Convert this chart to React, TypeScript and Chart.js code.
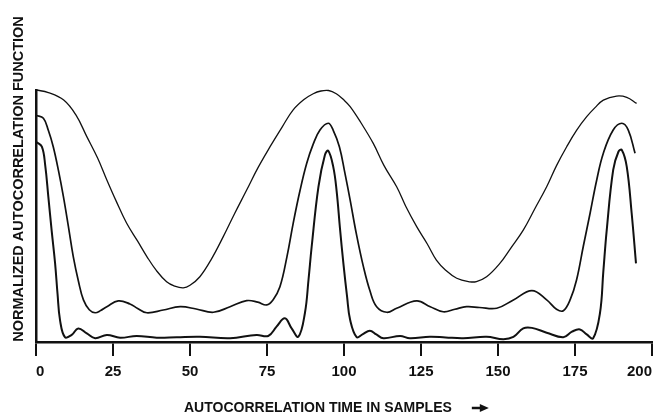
import React, { useEffect, useRef } from "react";
import { Chart, registerables } from "chart.js";

Chart.register(...registerables);

// Lag values (samples) and normalized autocorrelation for the three signals.
const lagsWide = [
  0, 4, 9, 13, 16.5, 20, 23, 26, 29.4, 33, 36, 39, 42.4, 45, 47.8, 50, 53.2, 57,
  60.8, 64.5, 68.4, 72, 76, 80, 83.5, 87, 90, 92.5, 95, 97.5, 100, 102, 105.5,
  109.5, 113, 117.1, 120, 123.6, 127, 130, 133, 136.6, 140.9, 143, 146.3, 150.6,
  154, 158.2, 162, 165.8, 169, 172.3, 175.5, 178.8, 181.5, 184.2, 188.5, 191.8,
  195,
];
const acfWide = [
  1.0, 0.99, 0.96, 0.9, 0.815, 0.73, 0.643, 0.56, 0.472, 0.4, 0.339, 0.285,
  0.239, 0.222, 0.215, 0.225, 0.259, 0.33, 0.418, 0.51, 0.603, 0.69, 0.775,
  0.855, 0.921, 0.962, 0.985, 0.996, 0.998, 0.985, 0.96, 0.934, 0.87, 0.788,
  0.7, 0.616, 0.54, 0.458, 0.39, 0.325, 0.285, 0.253, 0.239, 0.24, 0.259, 0.312,
  0.37, 0.444, 0.53, 0.616, 0.7, 0.775, 0.84, 0.894, 0.93, 0.96, 0.976, 0.971,
  0.947,
];

const lagsMid = [
  0, 2.4, 4, 5.6, 7.3, 8.9, 10.5, 12.1, 13.8, 15.4, 17.3, 19.2, 21, 23, 26.7,
  30.5, 33, 36, 41.3, 46.8, 52, 57.6, 63, 68.4, 72, 74.9, 77, 79.2, 81.5, 83.5,
  85.7, 87.9, 90, 92.2, 94.9, 96.5, 98.5, 100.3, 102, 104, 106.3, 108.5, 110.6,
  113.9, 117.1, 123.6, 128, 132.2, 136, 139.8, 144, 149.6, 155, 161, 165.8, 169,
  171.2, 173.5, 175.5, 177.7, 179.9, 182, 184.2, 187.4, 190.2, 192.3, 194.5,
];
const acfMid = [
  0.9, 0.888, 0.84, 0.775, 0.68, 0.577, 0.46, 0.339, 0.24, 0.167, 0.128, 0.116,
  0.125, 0.14, 0.163, 0.151, 0.133, 0.116, 0.127, 0.14, 0.131, 0.118, 0.14,
  0.164, 0.158, 0.147, 0.168, 0.219, 0.34, 0.471, 0.6, 0.709, 0.785, 0.841,
  0.868, 0.84, 0.775, 0.67, 0.563, 0.43, 0.299, 0.2, 0.14, 0.118, 0.134, 0.163,
  0.14, 0.12, 0.13, 0.14, 0.137, 0.134, 0.167, 0.204, 0.167, 0.13, 0.124, 0.17,
  0.246, 0.38, 0.511, 0.64, 0.749, 0.841, 0.868, 0.841, 0.749,
];

const lagsNarrow = [
  0, 1.9, 3, 4, 5.1, 6.2, 7, 7.8, 9.4, 11.6, 13.7, 16.5, 19.2, 23, 27.3, 32.7,
  39.2, 45.7, 53.2, 63, 71.6, 75.4, 78.1, 80.8, 83, 85.2, 87.3, 88.5, 89.5, 91.7,
  93.8, 94.9, 96.5, 97.6, 98.7, 99.8, 101, 102, 104.1, 106, 108.4, 110.5, 112.8,
  118.2, 121.4, 127.9, 133, 138.7, 146.3, 151.7, 155, 158.2, 161, 165.8, 171.2,
  174, 176.6, 178.8, 180.9, 183.1, 184.2, 185.3, 187.4, 189.1, 190.2, 191.8,
  193.4, 194.8,
];
const acfNarrow = [
  0.795, 0.775, 0.7, 0.577, 0.44, 0.312, 0.19, 0.087, 0.019, 0.028, 0.054,
  0.034, 0.015, 0.028, 0.017, 0.024, 0.017, 0.019, 0.021, 0.015, 0.028, 0.024,
  0.061, 0.094, 0.054, 0.021, 0.114, 0.25, 0.378, 0.616, 0.742, 0.759, 0.696,
  0.6, 0.45, 0.312, 0.18, 0.087, 0.019, 0.03, 0.045, 0.03, 0.015, 0.024, 0.015,
  0.021, 0.018, 0.015, 0.021, 0.011, 0.02, 0.054, 0.056, 0.037, 0.019, 0.041,
  0.05, 0.03, 0.015, 0.114, 0.28, 0.444, 0.683, 0.755, 0.762, 0.696, 0.511,
  0.312,
];

const xTicks = [0, 25, 50, 75, 100, 125, 150, 175, 200];
const xTitle = "AUTOCORRELATION TIME IN SAMPLES";
const yTitle = "NORMALIZED AUTOCORRELATION FUNCTION";

const INK = "#111111";
const FONT = "'Liberation Sans', Arial, Helvetica, sans-serif";

const toPoints = (xs: number[], ys: number[]) =>
  xs.map((x, i) => ({ x, y: ys[i] }));

// Axis titles: rotated y title and the x title followed by a solid arrow.
const titlesPlugin = {
  id: "axisTitles",
  afterDraw(chart: Chart) {
    const ctx = chart.ctx;
    ctx.save();
    ctx.fillStyle = INK;

    ctx.font = `bold 14.5px ${FONT}`;
    ctx.textAlign = "center";
    ctx.textBaseline = "middle";
    ctx.save();
    ctx.translate(19, 179);
    ctx.rotate(-Math.PI / 2);
    ctx.fillText(yTitle, 0, 0);
    ctx.restore();

    ctx.font = `bold 14px ${FONT}`;
    ctx.textAlign = "left";
    ctx.textBaseline = "middle";
    const left = 184;
    const cy = 408;
    ctx.fillText(xTitle, left, cy);
    const end = left + ctx.measureText(xTitle).width;

    const ax = end + 20;
    ctx.lineWidth = 2.5;
    ctx.strokeStyle = INK;
    ctx.beginPath();
    ctx.moveTo(ax, cy);
    ctx.lineTo(ax + 10, cy);
    ctx.stroke();
    ctx.beginPath();
    ctx.moveTo(ax + 8, cy - 4);
    ctx.lineTo(ax + 17, cy);
    ctx.lineTo(ax + 8, cy + 4);
    ctx.closePath();
    ctx.fill();
    ctx.restore();
  },
};

export default function App() {
  const canvasRef = useRef<HTMLCanvasElement | null>(null);

  useEffect(() => {
    const canvas = canvasRef.current;
    if (!canvas) return;

    const lineStyle = (width: number) => ({
      borderColor: INK,
      borderWidth: width,
      pointRadius: 0,
      fill: false,
      tension: 0.4,
      clip: false as const,
    });

    const chart = new Chart(canvas, {
      type: "line",
      data: {
        datasets: [
          { label: "wide", data: toPoints(lagsWide, acfWide), ...lineStyle(1.3) },
          { label: "mid", data: toPoints(lagsMid, acfMid), ...lineStyle(1.7) },
          { label: "narrow", data: toPoints(lagsNarrow, acfNarrow), ...lineStyle(2.0) },
        ],
      },
      options: {
        animation: false,
        responsive: false,
        devicePixelRatio: 1,
        layout: { padding: { left: 36, right: 9, top: 90, bottom: 0 } },
        plugins: {
          legend: { display: false },
          tooltip: { enabled: false },
        },
        scales: {
          x: {
            type: "linear",
            min: 0,
            max: 200,
            afterBuildTicks: (scale: any) => {
              scale.ticks = xTicks.map((v) => ({ value: v }));
            },
            afterFit: (scale: any) => {
              scale.height = 73;
              scale.paddingLeft = 0;
              scale.paddingRight = 0;
            },
            ticks: {
              color: INK,
              font: { family: FONT, size: 15, weight: "bold" },
              align: "inner",
              padding: 7,
              maxRotation: 0,
              autoSkip: false,
            },
            grid: {
              display: true,
              drawOnChartArea: false,
              drawTicks: true,
              tickLength: 14,
              lineWidth: 2,
              color: INK,
            },
            border: { display: true, color: INK, width: 2.5 },
          },
          y: {
            type: "linear",
            min: 0,
            max: 1,
            afterFit: (scale: any) => {
              scale.width = 0;
            },
            ticks: { display: false },
            grid: { display: false, drawTicks: false },
            border: { display: true, color: INK, width: 2.5 },
          },
        },
      },
      plugins: [titlesPlugin],
    });

    return () => chart.destroy();
  }, []);

  return (
    <div
      style={{
        position: "fixed",
        left: 0,
        top: 0,
        width: 661,
        height: 415,
        background: "#ffffff",
      }}
    >
      <canvas ref={canvasRef} width={661} height={415} style={{ display: "block" }} />
    </div>
  );
}
